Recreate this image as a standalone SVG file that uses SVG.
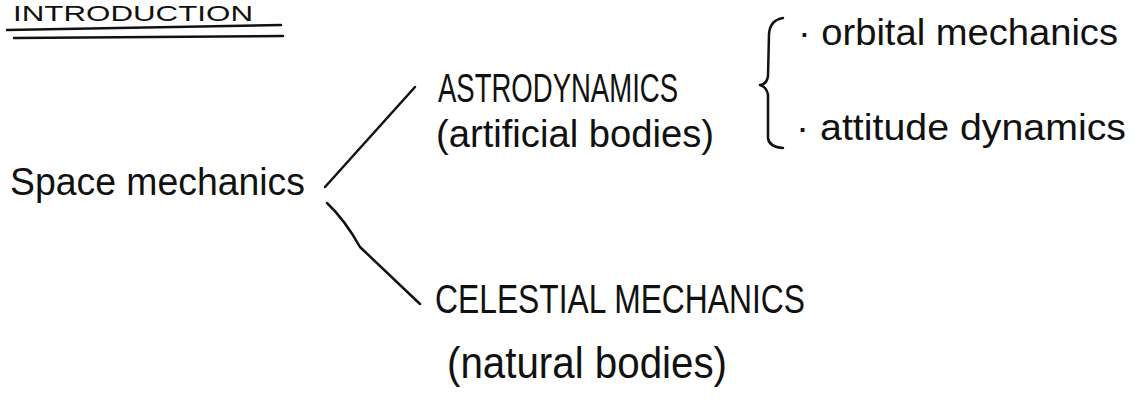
<svg xmlns="http://www.w3.org/2000/svg" width="1133" height="403" viewBox="0 0 1133 403">
<style>
.t{font-family:"Liberation Sans",Arial,sans-serif;fill:#111;}
.ln{fill:none;stroke:#111;stroke-width:2.5;stroke-linecap:round;stroke-linejoin:round;}
</style>
<rect width="1133" height="403" fill="#fff"/>
<g id="title">
<text class="t" x="13" y="21" font-size="22" textLength="240" lengthAdjust="spacingAndGlyphs">INTRODUCTION</text>
<path class="ln" d="M7,30 Q150,27 281,25"/>
<path class="ln" d="M14,38 Q150,37 283,36"/>
</g>
<g id="space-mechanics">
<text class="t" x="10" y="195" font-size="38" textLength="295" lengthAdjust="spacingAndGlyphs">Space mechanics</text>
</g>
<g id="astrodynamics">
<text class="t" x="438" y="102" font-size="40" textLength="240" lengthAdjust="spacingAndGlyphs">ASTRODYNAMICS</text>
<text class="t" x="436" y="147" font-size="38" textLength="278" lengthAdjust="spacingAndGlyphs">(artificial bodies)</text>
</g>
<g id="celestial-mechanics">
<text class="t" x="435" y="313" font-size="40" textLength="370" lengthAdjust="spacingAndGlyphs">CELESTIAL MECHANICS</text>
<text class="t" x="447" y="378" font-size="44" textLength="280" lengthAdjust="spacingAndGlyphs">(natural bodies)</text>
</g>
<g id="subtopics">
<path class="ln" d="M783,18 Q770,20 769,34 L768,76 Q767,84 760,85 Q767,87 768,95 L768,138 Q769,147 783,148"/>
<text class="t" x="798" y="45" font-size="36" textLength="320" lengthAdjust="spacingAndGlyphs">· orbital mechanics</text>
<text class="t" x="796" y="140" font-size="36" textLength="330" lengthAdjust="spacingAndGlyphs">· attitude dynamics</text>
</g>
<g id="connectors">
<path class="ln" d="M325,187 L415,87"/>
<path class="ln" d="M327,203 Q345,220 360,247 L420,304"/>
</g>
</svg>
